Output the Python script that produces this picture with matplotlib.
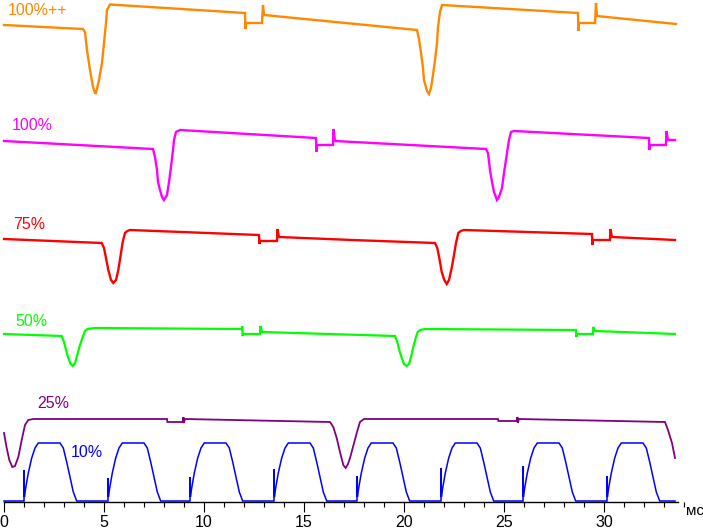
import matplotlib
matplotlib.use("Agg")
import matplotlib.pyplot as plt
from matplotlib.ticker import MultipleLocator

plt.rcParams['font.family'] = ['Liberation Sans', 'DejaVu Sans']

# ---- data (time in ms, signal level in screen-offset units, larger = lower) ----
orange_t = [0, 3.95, 4.05, 4.15, 4.3, 4.45, 4.55, 4.6, 4.75, 4.9, 5.0, 5.1, 5.15, 5.3,
            12.05, 12.07, 12.1, 12.9, 12.95, 13.0, 20.65, 20.75, 20.85, 20.95, 21.0,
            21.15, 21.25, 21.35, 21.45, 21.55, 21.65, 21.7, 21.8, 21.9, 28.7, 28.72,
            28.75, 29.55, 29.6, 29.65, 33.6]
orange_y = [25, 29, 32, 50, 70, 87, 93, 93, 80, 63, 43, 23, 10, 4.5,
            13, 29, 23, 23, 5, 15, 30, 39, 53, 68, 80,
            91, 94, 88, 75, 60, 43, 27, 12, 5, 13, 31,
            23, 23, 3, 16, 24]

magenta_t = [0, 7.45, 7.55, 7.65, 7.7, 7.8, 7.9, 8.0, 8.15, 8.25, 8.35, 8.45, 8.5, 8.6,
             8.8, 15.6, 15.62, 15.65, 16.45, 16.47, 16.55, 24.1, 24.2, 24.3, 24.4, 24.5,
             24.65, 24.75, 24.9, 25.0, 25.15, 25.25, 25.35, 25.5, 32.25, 32.27, 32.3,
             33.1, 33.12, 33.2, 33.55]
magenta_y = [141, 149, 157, 170, 182, 190, 197, 200, 195, 182, 167, 150, 140, 132,
             130, 138, 152, 145, 145, 129, 141, 149, 153, 170, 182, 192,
             200, 197, 188, 173, 153, 140, 132, 131, 138, 150, 145,
             145, 131, 140, 140]

red_t = [0, 4.885, 5.0, 5.1, 5.215, 5.35, 5.465, 5.6, 5.715, 5.835, 5.935, 6.05, 6.165,
         6.3, 12.75, 12.77, 12.8, 13.65, 13.67, 13.75, 17.4, 21.55, 21.665, 21.765,
         21.885, 22.015, 22.135, 22.25, 22.385, 22.5, 22.6, 22.715, 22.835, 23.0, 29.4,
         29.42, 29.45, 30.3, 30.32, 30.4, 33.55]
red_y = [239, 243, 248, 258, 270, 280, 283, 280, 270, 255, 242, 233, 231,
         230, 235, 244, 241, 241, 229, 237, 240, 243, 248, 258,
         272, 280, 284, 280, 268, 255, 243, 233, 231, 230, 234,
         245, 240, 240, 229, 237, 240]

green_t = [0, 2.885, 3.0, 3.1, 3.215, 3.335, 3.435, 3.55, 3.665, 3.8, 3.935, 4.05, 4.165,
           4.55, 11.9, 11.91, 11.93, 11.96, 12.8, 12.82, 12.9, 19.55, 19.665, 19.765,
           19.885, 20.0, 20.135, 20.25, 20.35, 20.465, 20.585, 20.685, 20.8, 21.05,
           28.6, 28.62, 28.65, 29.45, 29.47, 29.55, 33.55]
green_y = [334, 336, 342, 350, 358, 364, 366, 363, 355, 345, 337, 331, 329,
           328, 329, 326, 336, 334, 334, 326, 332, 336, 342, 350,
           358, 364, 366, 364, 357, 347, 338, 332, 330, 329,
           330, 337, 334, 334, 327, 331, 334]

purple_t = [0, 0.135, 0.265, 0.415, 0.55, 0.715, 0.885, 1.05, 1.215, 1.465, 8.15, 8.17,
            8.95, 8.97, 8.99, 9.05, 16.3, 16.465, 16.635, 16.8, 16.965, 17.085, 17.2,
            17.3, 17.45, 17.65, 17.8, 18.0, 24.7, 24.72, 25.65, 25.67, 25.69, 25.75,
            33.05, 33.2, 33.4, 33.55]
purple_y = [433, 448, 460, 467, 466, 457, 440, 425, 420, 419, 419, 422,
            422, 417, 423, 419, 422, 427, 438, 452, 465, 468, 464,
            458, 447, 432, 422, 419, 419, 421, 421, 417, 423, 419,
            422, 430, 443, 458]

# 10% trace: pulse rise times, their leading spike levels, and the pulse shape
blue_rise_t = [1.0, 5.2, 9.3, 13.5, 17.65, 21.85, 25.95, 30.15]
blue_spike_y = [470, 478, 477, 469, 476, 468, 466, 476]
blue_pulse_dt = [0.0, 0.005, 0.02, 0.05, 0.215, 0.385, 0.55, 0.715, 1.8, 1.965,
                 2.135, 2.3, 2.465, 2.635]
blue_pulse_y = [501, None, 497, 492, 473, 458, 448, 443, 443, 448, 462, 477, 492, 501]
blue_base_y = 501
blue_end_t = 33.55

labels = ['100%++', '100%', '75%', '50%', '25%', '10%']
label_x = [0.2, 0.4, 0.45, 0.55, 1.65, 3.35]
label_y = [15, 130, 229, 326, 408, 457]
colors = ['#ff8800', '#ff00ff', '#ff0000', '#00ff00', '#800080', '#0000ff']

tick_major = [0, 5, 10, 15, 20, 25, 30]
unit_label = 'мс'

# ---- build the 10% trace from its read values ----
blue_t = [0.0]
blue_y = [blue_base_y]
for r, s in zip(blue_rise_t, blue_spike_y):
    for dt, lv in zip(blue_pulse_dt, blue_pulse_y):
        blue_t.append(r + dt)
        blue_y.append(s if lv is None else lv)
blue_t.append(blue_end_t)
blue_y.append(blue_base_y)

fig = plt.figure(figsize=(7.03, 5.30), dpi=100)
ax = fig.add_axes([0, 0, 1, 1])
ax.set_xlim(-0.2, 34.95)
ax.set_ylim(530, 0)

series = [(orange_t, orange_y, 1.7), (magenta_t, magenta_y, 1.7), (red_t, red_y, 1.7),
          (green_t, green_y, 1.6), (purple_t, purple_y, 1.3), (blue_t, blue_y, 1.1)]
for (t, y, lw), c in zip(series, colors):
    ax.plot(t, y, color=c, lw=lw, solid_joinstyle='miter')

for lab, lx, ly, c in zip(labels, label_x, label_y, colors):
    ax.text(lx, ly, lab, color=c, fontsize=11.5, va='baseline', ha='left')

for s in ['top', 'left', 'right']:
    ax.spines[s].set_visible(False)
ax.spines['bottom'].set_position(('data', 502))
ax.spines['bottom'].set_bounds(0, 33.7)
ax.spines['bottom'].set_linewidth(1.0)
ax.set_yticks([])
ax.set_xticks(tick_major)
ax.set_xticklabels([str(v) for v in tick_major])
ax.xaxis.set_minor_locator(MultipleLocator(1))
ax.tick_params(axis='x', which='major', length=7.5, width=0.8, pad=2, labelsize=11.5)
ax.tick_params(axis='x', which='minor', length=3.8, width=0.8)
ax.text(34.1, 515, unit_label, fontsize=11, va='baseline', ha='left', color='black')
ax.patch.set_visible(False)

fig.savefig('out.png', dpi=100, facecolor='white')
